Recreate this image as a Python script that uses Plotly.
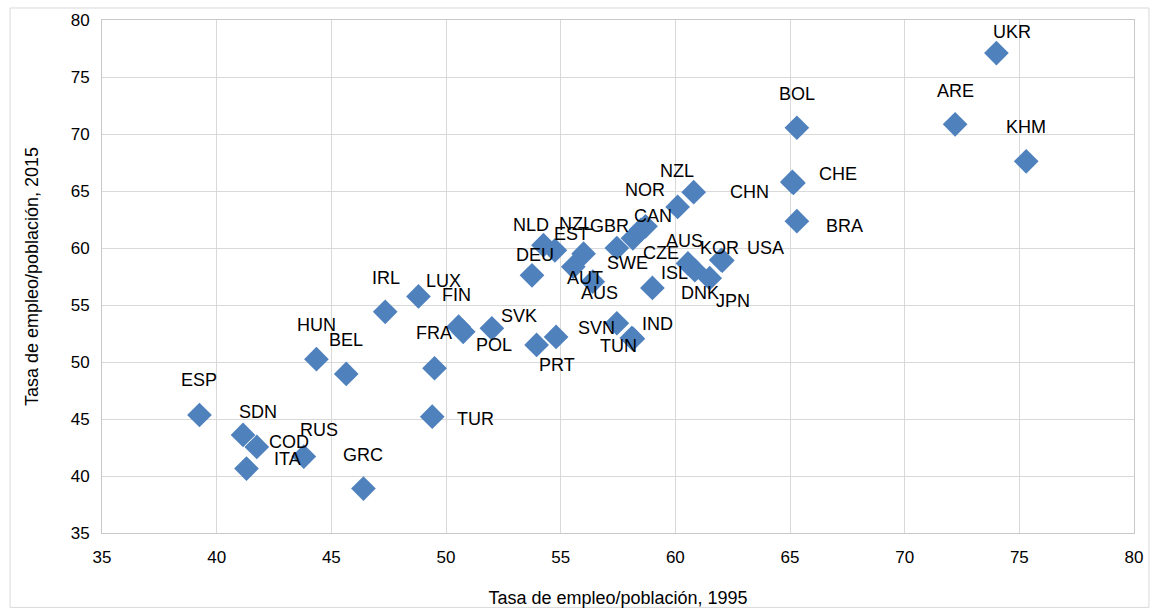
import plotly.graph_objects as go

# ---- data ----
countries = ["UKR", "ARE", "KHM", "BOL", "CHE", "CHN", "BRA", "NZL", "NOR", "CAN",
             "NLD", "NZL", "EST", "GBR", "DEU", "AUT", "AUS", "SWE", "CZE", "AUS",
             "ISL", "DNK", "JPN", "KOR", "USA", "IRL", "LUX", "FIN", "", "FRA",
             "HUN", "BEL", "SVK", "POL", "PRT", "SVN", "TUN", "IND", "ESP", "SDN",
             "COD", "ITA", "RUS", "GRC", "TUR"]
rate_1995 = [74.0, 72.2, 75.3, 65.3, 65.15, 65.1, 65.3, 60.8, 60.1, 58.7,
             54.25, 56.0, 54.75, 57.45, 53.75, 55.55, 56.4, 58.15, 58.5, 60.55,
             59.0, 60.85, 61.5, 62.0, 62.05, 47.35, 48.8, 50.55, 50.75, 49.5,
             44.35, 45.65, 52.0, 54.8, 53.95, 57.45, 58.1, 58.15, 39.25, 41.15,
             41.75, 41.3, 43.8, 46.4, 49.4]
rate_2015 = [77.1, 70.85, 67.6, 70.55, 65.7, 65.8, 62.35, 64.9, 63.6, 61.9,
             60.25, 59.5, 59.8, 60.0, 57.6, 58.35, 57.05, 60.85, 61.6, 58.65,
             56.5, 58.05, 57.35, 58.95, 58.9, 54.4, 55.75, 53.1, 52.65, 49.45,
             50.25, 48.95, 52.95, 52.2, 51.5, 53.4, 52.1, 52.05, 45.35, 43.6,
             42.55, 40.65, 41.7, 38.9, 45.2]
x_ticks = [35, 40, 45, 50, 55, 60, 65, 70, 75, 80]
y_ticks = [35, 40, 45, 50, 55, 60, 65, 70, 75, 80]
x_title = "Tasa de empleo/población, 1995"
y_title = "Tasa de empleo/población, 2015"

# ---- label offsets in pixels (dx right, dy down) : style, not data ----
label_offsets = [(16, -21), (0, -33), (0, -34), (0, -34), (45, -9), (-43, 10), (48, 5), (-17, -21), (-33, -17), (7, -10),
                 (-12, -20), (-8, -30), (17, -16), (-7, -22), (3, -20), (12, 11), (7, 11), (-5, 25), (20, 23), (-3, -22),
                 (22, -15), (5, 23), (23, 23), (-2, -12), (43, -13), (1, -34), (25, -15), (-2, -32), (0, 0), (-1, -35),
                 (0, -34), (0, -34), (27, -12), (-62, 8), (20, 20), (-20, 5), (-13, 8), (25, -15), (0, -35), (15, -23),
                 (32, -5), (41, -10), (15, -27), (0, -34), (43, 2)]

FONT = "Liberation Sans, Arial, sans-serif"
BLUE = "#4F81BD"
GRID = "#D9D9D9"

fig = go.Figure()
fig.add_trace(go.Scatter(
    x=rate_1995, y=rate_2015, mode="markers",
    marker=dict(symbol="diamond", size=19, color=BLUE, line=dict(width=0)),
    text=countries, hoverinfo="text+x+y", showlegend=False,
))

annotations = []
for name, xv, yv, (dx, dy) in zip(countries, rate_1995, rate_2015, label_offsets):
    if not name:
        continue
    annotations.append(dict(x=xv, y=yv, xref="x", yref="y", text=name, showarrow=False,
                            xshift=dx, yshift=-dy,
                            font=dict(family=FONT, size=18, color="#000000")))

fig.update_layout(
    width=1150, height=608,
    margin=dict(l=102, r=16, t=20, b=75),
    paper_bgcolor="white", plot_bgcolor="white",
    font=dict(family=FONT, size=18, color="#000000"),
    annotations=annotations,
    shapes=[dict(type="rect", xref="paper", yref="paper",
                 x0=-0.0891, x1=1.0145, y0=-0.145, y1=1.0234,
                 line=dict(color=GRID, width=1), layer="below")],
    xaxis=dict(range=[35, 80], tickvals=x_ticks, ticktext=[str(v) for v in x_ticks],
               automargin=False,
               showgrid=True, gridcolor=GRID, gridwidth=1,
               showline=True, linecolor="#C8C8C8", linewidth=1, mirror=True,
               zeroline=False, ticks="", ticklabelstandoff=9,
               tickfont=dict(family=FONT, size=17, color="#000000"),
               title=dict(text=x_title, standoff=26,
                          font=dict(family=FONT, size=18, color="#000000"))),
    yaxis=dict(range=[35, 80], tickvals=y_ticks, ticktext=[str(v) for v in y_ticks],
               automargin=False,
               showgrid=True, gridcolor=GRID, gridwidth=1,
               showline=True, linecolor="#C8C8C8", linewidth=1, mirror=True,
               zeroline=False, ticks="", ticklabelstandoff=8,
               tickfont=dict(family=FONT, size=17, color="#000000"),
               title=dict(text=y_title, standoff=27,
                          font=dict(family=FONT, size=18, color="#000000"))),
)

fig.write_html("out.html")
